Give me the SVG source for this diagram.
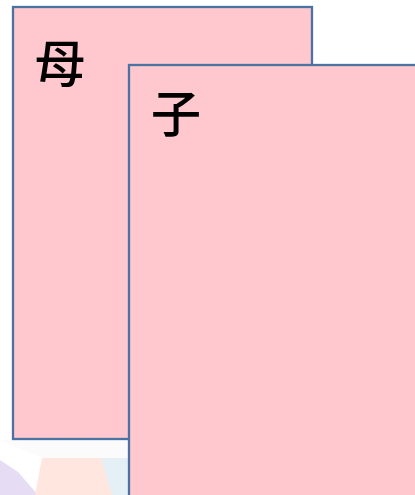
<svg xmlns="http://www.w3.org/2000/svg" width="415" height="495" viewBox="0 0 415 495">
<style>
.box{fill:#ffc7ce;stroke:#4a72a3;stroke-width:2.3}
.lbl{font-family:"Noto Sans CJK JP","Noto Sans CJK SC",sans-serif;font-size:50px;font-weight:500;fill:#000}
</style>
<rect x="0" y="0" width="415" height="495" fill="#ffffff"/>
<g id="bg" opacity="0.85">
<polygon points="0,460 0,495 38,495 18,472" fill="#e2d6f2"/>
<polygon points="42,458 130,458 130,495 35,495" fill="#ffe2da"/>
<polygon points="96,442 130,442 130,495 112,495" fill="#e1edf5"/>
<polygon points="0,440 130,440 130,458 42,458" fill="#fbfbfb"/>
</g>
<g id="mother">
<rect class="box" x="13" y="7" width="299" height="432"/>
<text class="lbl" x="35" y="82">母</text>
</g>
<g id="child">
<rect class="box" x="129" y="65" width="300" height="440"/>
<text class="lbl" x="151" y="132">子</text>
</g>
<g id="connectors"/>
</svg>
